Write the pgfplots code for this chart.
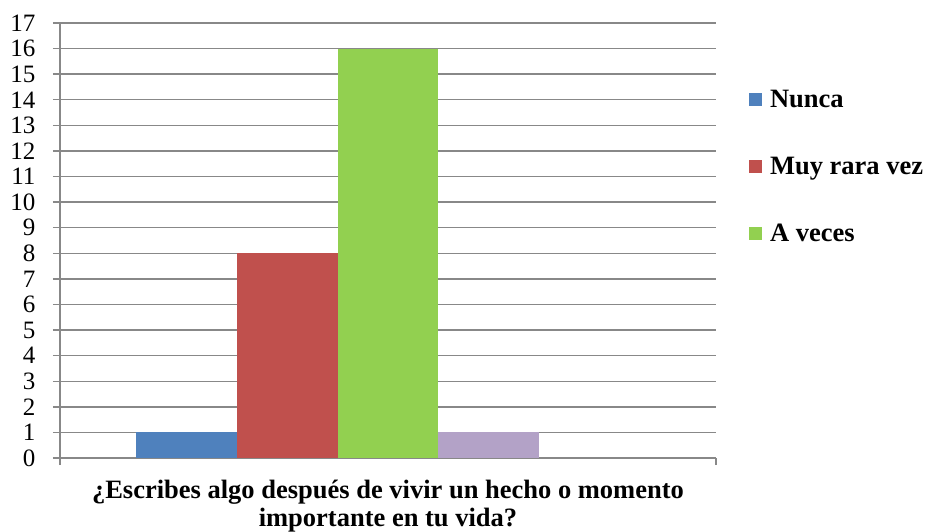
\documentclass[border=0pt]{standalone}
\usepackage{pgfplots}
\pgfplotsset{compat=1.18}
\usepackage{fontspec}
\setmainfont{Liberation Serif}
\definecolor{serA}{HTML}{4F81BD}
\definecolor{serB}{HTML}{C0504D}
\definecolor{serC}{HTML}{92D050}
\definecolor{serD}{HTML}{B3A2C7}
\definecolor{gridgray}{HTML}{888888}

\begin{document}
\begin{tikzpicture}[x=1pt,y=1pt]
\path[use as bounding box] (0,0) rectangle (926,531);
\begin{axis}[
  at={(60pt,73pt)}, anchor=south west,
  scale only axis, width=656pt, height=435pt,
  ybar, bar width=1, bar shift=0pt,
  xmin=-3.25, xmax=3.25,
  ymin=0, ymax=17,
  ytick={0,...,17},
  xtick={-3.25,3.25}, xticklabels={},
  axis lines*=left,
  axis line style={-, draw=gridgray, line width=1.4pt},
  tick style={draw=gridgray, line width=1.4pt},
  major tick length=7pt,
  tick align=outside,
  ymajorgrids,
  grid style={draw=gridgray, line width=1.4pt},
  /pgf/number format/assume math mode=true,
  yticklabel style={font=\fontsize{25}{25}\selectfont, xshift=-14pt},
  xlabel={¿Escribes algo después de vivir un hecho o momento\\importante en tu vida?},
  xlabel style={at={(axis description cs:0.5,-0.05)}, anchor=north, inner sep=0pt,
    align=center, font=\fontsize{26.5}{28}\selectfont\bfseries},
  legend style={at={(1.05,0.85)}, anchor=north west, draw=none, fill=none,
    inner sep=0pt, font=\fontsize{26.5}{31}\selectfont\bfseries,
    row sep=44pt, legend cell align=left,
    /tikz/every odd column/.append style={column sep=6pt}},
  legend image code/.code={\fill[#1] (0pt,-6.5pt) rectangle (13pt,6.5pt);},
]
\addplot[draw=none, fill=serA] coordinates {(-2,1)};
\addplot[draw=none, fill=serB] coordinates {(-1,8)};
\addplot[draw=none, fill=serC] coordinates {(0,16)};
\addplot[draw=none, fill=serD, forget plot] coordinates {(1,1)};
\legend{Nunca, Muy rara vez, A veces}
\end{axis}
\end{tikzpicture}
\end{document}
